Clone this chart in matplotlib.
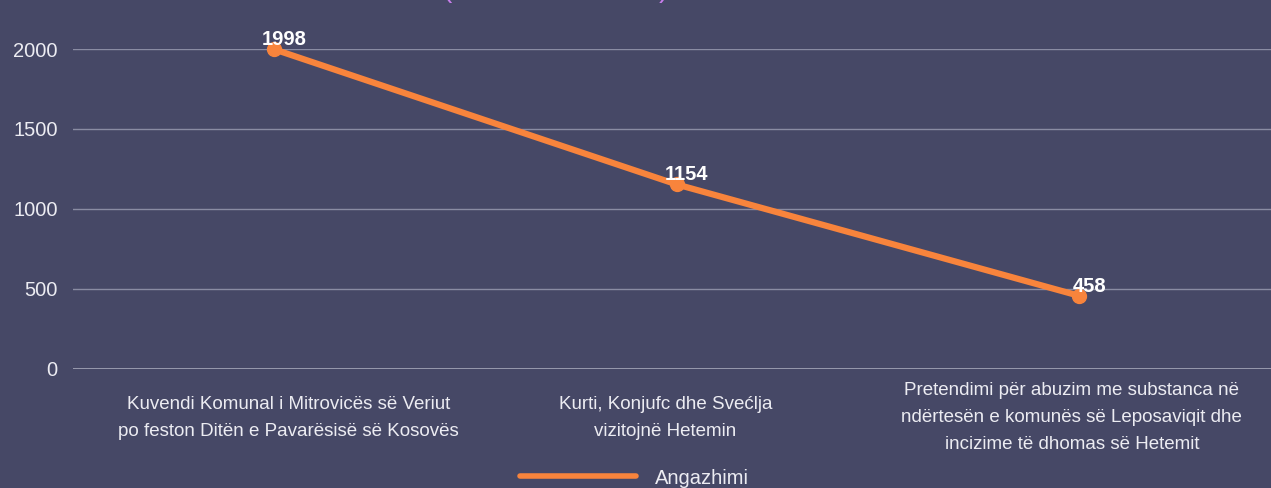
import matplotlib.pyplot as plt
from matplotlib.transforms import ScaledTranslation

plt.rcParams['font.family'] = ['Liberation Sans', 'DejaVu Sans']

categories = [
    'Kuvendi Komunal i Mitrovicës së Veriut\npo feston Ditën e Pavarësisë së Kosovës',
    'Kurti, Konjufc dhe Svećlja\nvizitojnë Hetemin',
    'Pretendimi për abuzim me substanca në\nndërtesën e komunës së Leposaviqit dhe\nincizime të dhomas së Hetemit',
]
values = [1998, 1154, 458]
yticks = [0, 500, 1000, 1500, 2000]
series_name = 'Angazhimi'

BG = '#464866'
ORANGE = '#F8843C'
TXT = '#ECECF2'

W, H = 1271, 488
fig = plt.figure(figsize=(W / 100, H / 100), dpi=100, facecolor=BG)
# axes in pixel coords: left 73, right 1280, y=0 at 369, y=2000 at 49
ax = fig.add_axes([73 / W, (H - 369) / H, (1280 - 73) / W, 320 / H], facecolor=BG)

x = list(range(len(values)))
ax.plot(x, values, color=ORANGE, lw=4.5, marker='o', markersize=10,
        solid_capstyle='round', label=series_name, zorder=3, clip_on=False)
for xi, v in zip(x, values):
    ax.annotate(str(v), (xi, v), xytext=(7.5, 3), textcoords='offset points',
                ha='center', va='baseline', color='white', fontsize=14.5,
                fontweight='bold', zorder=4)

ax.set_xlim(-0.5, 2.5)
ax.set_ylim(0, 2000)
ax.set_yticks(yticks)
ax.set_xticks(x)
ax.set_xticklabels(categories, fontsize=13.5, color=TXT, linespacing=1.78)
ax.tick_params(axis='y', length=0, pad=11, labelsize=14.5, labelcolor=TXT)
ax.tick_params(axis='x', length=0, pad=35)

# labels are vertically centred below the axis, with small horizontal nudges
for lbl, dx in zip(ax.get_xticklabels(), [14, -11, -7]):
    lbl.set_va('center')
    lbl.set_transform(lbl.get_transform() + ScaledTranslation(dx / 100, 0, fig.dpi_scale_trans))

ax.grid(axis='y', color='#8a8ca3', lw=1, zorder=0)
ax.grid(axis='x', visible=False)
for s in ax.spines.values():
    s.set_visible(False)
ax.axhline(0, color='#a9abbd', lw=1.2, zorder=1)

# clipped title remnants at the top
fig.text(447 / W, 1.0 + 10 / H, '(', color='#C77DEB', fontsize=20, ha='center', va='center')
fig.text(663 / W, 1.0 + 10 / H, ')', color='#C77DEB', fontsize=20, ha='center', va='center')

leg = fig.legend(loc='center', bbox_to_anchor=(634 / W, (H - 478) / H), frameon=False,
                 fontsize=14.5, labelcolor=TXT, handlelength=5.8, handletextpad=0.9)
for line in leg.get_lines():
    line.set_linewidth(4)
    line.set_marker('')

fig.savefig('out.png', dpi=100, facecolor=BG)
